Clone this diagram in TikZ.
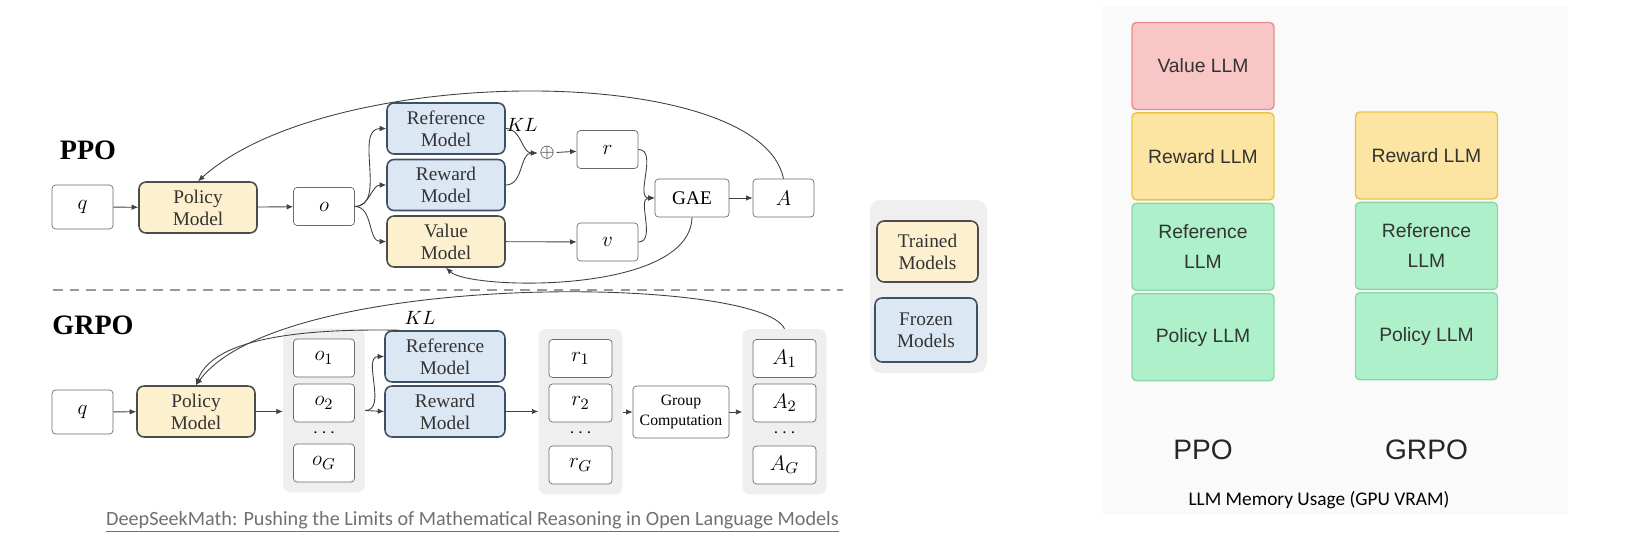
\documentclass[tikz,border=0pt]{standalone}
\usepackage{fontspec}
\setmainfont{Liberation Serif}
\newfontfamily\llmfont{Liberation Sans}
\newfontfamily\capfont{Carlito}
\usetikzlibrary{positioning, arrows.meta, fit, backgrounds}

\definecolor{trainfill}{HTML}{FDF0CE}
\definecolor{frozenfill}{HTML}{DCE7F4}
\definecolor{frozendraw}{HTML}{3F4F66}
\definecolor{boxdraw}{HTML}{6A6A6A}
\definecolor{groupfill}{HTML}{EFEFEF}
\definecolor{panelfill}{HTML}{FAFAFA}
\definecolor{valfill}{HTML}{F9C6C6}
\definecolor{valdraw}{HTML}{EB8C8C}
\definecolor{rewfill}{HTML}{FCE5A2}
\definecolor{rewdraw}{HTML}{E7C542}
\definecolor{reffill}{HTML}{ADF0C9}
\definecolor{refdraw}{HTML}{8CD7AA}
\definecolor{captext}{HTML}{707070}

\begin{document}
\begin{tikzpicture}[
  x=0.02cm, y=-0.02cm,
  >={Latex[length=1.3mm, width=1.1mm]},
  font=\fontsize{11}{12.5}\selectfont,
  var/.style={draw=boxdraw, rounded corners=2pt, fill=white, minimum width=1.22cm, minimum height=0.76cm, inner sep=0pt, font=\fontsize{13}{15}\selectfont},
  model/.style={draw=#1, line width=0.9pt, rounded corners=4pt, minimum width=2.36cm, minimum height=1.02cm, inner sep=0pt, align=center, text=black!80},
  trained/.style={model=black!70, fill=trainfill},
  frozen/.style={model=frozendraw, fill=frozenfill},
  group/.style={fill=groupfill, rounded corners=4pt, inner sep=0.2cm},
  flow/.style={->, draw=black!75, line width=0.5pt},
  tag/.style={font=\fontsize{16}{18}\selectfont\bfseries},
  llm/.style={draw=#1, line width=0.8pt, rounded corners=2.5pt, minimum width=2.84cm, minimum height=1.74cm, inner sep=0pt, align=center, font=\llmfont\fontsize{11}{17}\selectfont, text=black!80}
]
  \useasboundingbox (0,0) rectangle (1650,554);

  % PPO pipeline
  \node[tag] (ppo) at (88,150) {PPO};
  \node[var, minimum height=0.88cm] (q1) at (82.5,207) {$q$};
  \node[trained] (pol1) at (198,207.5) {Policy\\Model};
  \node[var] (o) at (324,206.5) {$o$};
  \node[frozen] (ref1) at (446,128.5) {Reference\\Model};
  \node[frozen] (rew1) at (446,185) {Reward\\Model};
  \node[trained] (val1) at (446,241.5) {Value\\Model};
  \node[inner sep=1pt] (plus) at (547,153) {$\oplus$};
  \node (kl1) at (522,125) {$KL$};
  \node[var] (r) at (607.5,149.5) {$r$};
  \node[var] (v) at (607.5,242) {$v$};
  \node[var, minimum width=1.48cm, font=\fontsize{11}{13}\selectfont] (gae) at (692,198) {GAE};
  \node[var] (adv) at (783.5,198) {$A$};

  \draw[flow] (q1) -- (pol1);
  \draw[flow] (pol1) -- (o);
  \foreach \m in {ref1, rew1, val1}
    \draw[flow] (o.east) to[out=0, in=180] (\m.west);
  \draw[flow] (ref1.east) to[out=0, in=180] (plus.west);
  \draw[flow] (rew1.east) to[out=0, in=180] (plus.west);
  \draw[flow] (plus) -- (r);
  \draw[flow] (val1) -- (v);
  \draw[flow] (r.east) to[out=0, in=180] (gae.west);
  \draw[flow] (v.east) to[out=0, in=180] (gae.west);
  \draw[flow] (gae) -- (adv);
  \draw[flow] (adv.north) .. controls (760,62) and (330,62) .. (pol1.north);
  \draw[flow] (gae.south) .. controls (690,295) and (470,290) .. (val1.south);

  % Separator
  \coordinate (sepl) at (53,290);
  \coordinate (sepr) at (843,290);
  \draw[draw=black!40, line width=1.5pt, dash pattern=on 5.5pt off 4pt] (sepl) -- (sepr);

  % GRPO pipeline
  \node[tag] (grpo) at (93,325) {GRPO};
  \node[var, minimum height=0.88cm] (q2) at (82.5,412) {$q$};
  \node[trained] (pol2) at (196,411.5) {Policy\\Model};
  \node[var] (o1) at (324,358) {$o_1$};
  \node[var] (o2) at (324,403) {$o_2$};
  \node (od) at (324,433) {$\cdots$};
  \node[var] (oG) at (324,463) {$o_G$};
  \node[frozen, minimum width=2.4cm] (ref2) at (445,356.5) {Reference\\Model};
  \node[frozen, minimum width=2.4cm] (rew2) at (445,411.5) {Reward\\Model};
  \node (kl2) at (420,318) {$KL$};
  \node[var, minimum width=1.26cm] (r1) at (580.5,358.5) {$r_1$};
  \node[var, minimum width=1.26cm] (r2) at (580.5,403) {$r_2$};
  \node (rd) at (580.5,433) {$\cdots$};
  \node[var, minimum width=1.26cm] (rG) at (580.5,465) {$r_G$};
  \node[var, minimum width=1.92cm, minimum height=1.04cm, align=center, font=\fontsize{9}{11}\selectfont] (gc) at (681,412) {Group\\Computation};
  \node[var, minimum width=1.26cm] (a1) at (784.5,358.5) {$A_1$};
  \node[var, minimum width=1.26cm] (a2) at (784.5,403) {$A_2$};
  \node (ad) at (784.5,433) {$\cdots$};
  \node[var, minimum width=1.26cm] (aG) at (784.5,465) {$A_G$};
  \begin{scope}[on background layer]
    \node[group, fit=(o1)(oG)] (ogrp) {};
    \node[group, fit=(r1)(rG)] (rgrp) {};
    \node[group, fit=(a1)(aG)] (agrp) {};
  \end{scope}

  \draw[flow] (q2) -- (pol2);
  \draw[flow] (pol2.east) -- (pol2.east -| ogrp.west);
  \draw[flow] (ogrp.east) to[out=0, in=180] (ref2.west);
  \draw[flow] (ogrp.east) -- (rew2.west);
  \draw[flow] (rew2.east) -- (rew2.east -| rgrp.west);
  \draw[flow] (rgrp.east |- gc.west) -- (gc.west);
  \draw[flow] (gc.east) -- (gc.east -| agrp.west);
  \draw[flow] (agrp.north) .. controls (760,275) and (280,270) .. (pol2.north);
  \draw[flow] ([xshift=0.3cm]ref2.north west) .. controls (330,329) and (215,332) .. (pol2.north);

  % Legend
  \begin{scope}[on background layer]
    \fill[groupfill, rounded corners=6pt] (870,200) rectangle (987,373);
  \end{scope}
  \node[trained, minimum width=2.02cm, minimum height=1.22cm] (lgtr) at (927.5,251.5) {Trained\\Models};
  \node[frozen, minimum width=2.04cm, minimum height=1.28cm] (lgfr) at (926,330) {Frozen\\Models};

  \node[font=\capfont\fontsize{11.5}{13}\selectfont, text=captext] (papercap) at (472.5,522)
    {\underline{DeepSeekMath: Pushing the Limits of Mathematical Reasoning in Open Language Models}};

  % Memory panel
  \begin{scope}[on background layer]
    \fill[panelfill] (1102,6) rectangle (1568,515);
  \end{scope}
  \node[llm=valdraw, fill=valfill] (val3) at (1203,66) {Value LLM};
  \node[llm=rewdraw, fill=rewfill, below=0.04cm of val3] (rew3) {Reward LLM};
  \node[llm=refdraw, fill=reffill, below=0.04cm of rew3] (ref3) {Reference\\LLM};
  \node[llm=refdraw, fill=reffill, below=0.04cm of ref3] (pol3) {Policy LLM};

  \node[llm=rewdraw, fill=rewfill] (rew4) at (1426.5,155.5) {Reward LLM};
  \node[llm=refdraw, fill=reffill, below=0.04cm of rew4] (ref4) {Reference\\LLM};
  \node[llm=refdraw, fill=reffill, below=0.04cm of ref4] (pol4) {Policy LLM};

  \node[font=\llmfont\fontsize{16}{18}\selectfont, text=black!85] (ppolbl) at (1203,450) {PPO};
  \node[font=\llmfont\fontsize{16}{18}\selectfont, text=black!85] (grpolbl) at (1426.5,450) {GRPO};
  \node[font=\capfont\fontsize{11}{13}\selectfont] (memcap) at (1319,500) {LLM Memory Usage (GPU VRAM)};
\end{tikzpicture}
\end{document}
